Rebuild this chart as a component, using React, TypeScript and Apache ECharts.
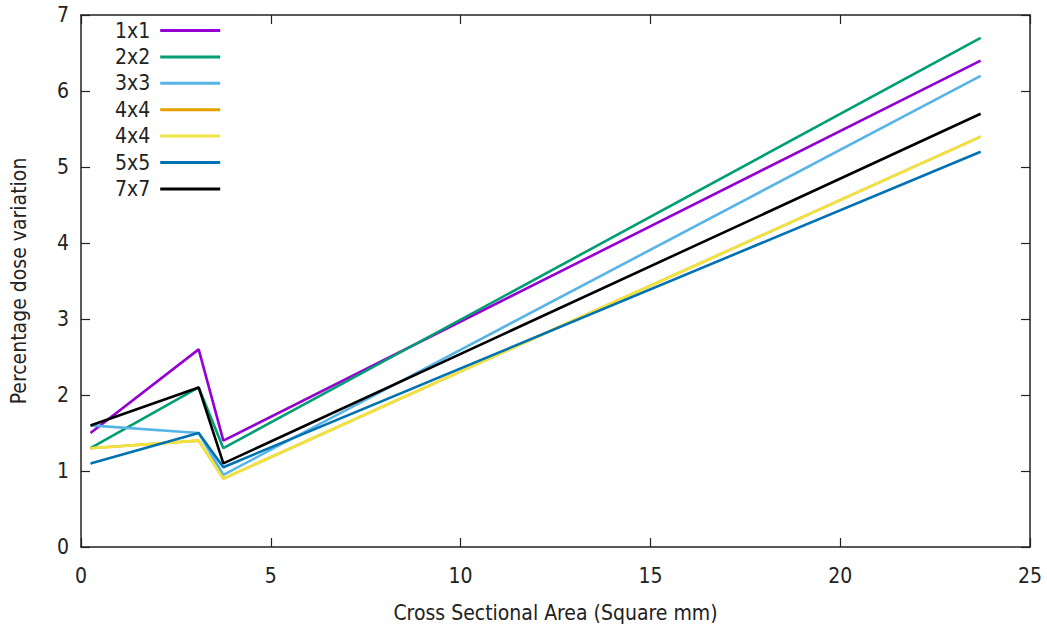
import React, { useEffect, useRef } from "react";
import * as echarts from "echarts";

const xValues = [0.25, 3.1, 3.75, 23.7];
const seriesNames = ["1x1", "2x2", "3x3", "4x4", "4x4\u200b", "5x5", "7x7"];
const s1x1 = [1.5, 2.6, 1.4, 6.4];
const s2x2 = [1.3, 2.1, 1.3, 6.7];
const s3x3 = [1.6, 1.5, 0.95, 6.2];
const s4x4a = [1.3, 1.4, 0.9, 5.4];
const s4x4b = [1.3, 1.4, 0.9, 5.4];
const s5x5 = [1.1, 1.5, 1.05, 5.2];
const s7x7 = [1.6, 2.1, 1.1, 5.7];
const seriesValues = [s1x1, s2x2, s3x3, s4x4a, s4x4b, s5x5, s7x7];
const colors = ["#9400d3", "#009e73", "#56b4e9", "#e69f00", "#f0e442", "#0072b2", "#000000"];

const FONT = "'DejaVu Sans Condensed', 'DejaVu Sans', sans-serif";
const TEXT = "#222";
const FS = 21;

export default function App() {
  const ref = useRef<HTMLDivElement>(null);
  useEffect(() => {
    const chart = echarts.init(ref.current!, null, { renderer: "svg" });
    const axisCommon = {
      axisLine: { show: true, onZero: false, lineStyle: { color: "#222", width: 1.5 } },
      axisTick: { show: true, inside: true, length: 9, lineStyle: { color: "#222", width: 1.2 } },
      splitLine: { show: false },
    };
    chart.setOption({
      animation: false,
      backgroundColor: "#fff",
      grid: { left: 80, right: 17, top: 15, bottom: 81, containLabel: false },
      legend: {
        orient: "vertical",
        left: 110,
        top: 15,
        align: "right",
        icon: "rect",
        itemWidth: 60,
        itemHeight: 3,
        itemGap: 5.4,
        textStyle: { fontFamily: FONT, fontSize: FS, color: TEXT, padding: [0, 5, 0, 0] },
        data: seriesNames.map((n) => ({ name: n })),
      },
      xAxis: [
        {
          type: "value",
          min: 0,
          max: 25,
          interval: 5,
          position: "bottom",
          ...axisCommon,
          axisLabel: { fontFamily: FONT, fontSize: FS, color: TEXT, margin: 18 },
          name: "Cross Sectional Area (Square mm)",
          nameLocation: "middle",
          nameGap: 55,
          nameTextStyle: { fontFamily: FONT, fontSize: FS, color: TEXT },
        },
        {
          type: "value",
          min: 0,
          max: 25,
          interval: 5,
          position: "top",
          ...axisCommon,
          axisLabel: { show: false },
        },
      ],
      yAxis: [
        {
          type: "value",
          min: 0,
          max: 7,
          interval: 1,
          position: "left",
          ...axisCommon,
          axisLabel: { fontFamily: FONT, fontSize: FS, color: TEXT, margin: 12 },
          name: "Percentage dose variation",
          nameLocation: "middle",
          nameGap: 52,
          nameTextStyle: { fontFamily: FONT, fontSize: FS, color: TEXT },
        },
        {
          type: "value",
          min: 0,
          max: 7,
          interval: 1,
          position: "right",
          ...axisCommon,
          axisLabel: { show: false },
        },
      ],
      series: seriesNames.map((name, i) => ({
        name,
        type: "line",
        xAxisIndex: 0,
        yAxisIndex: 0,
        symbol: "none",
        color: colors[i],
        lineStyle: { color: colors[i], width: 2.6 },
        data: xValues.map((x, j) => [x, seriesValues[i][j]]),
        z: i === 6 ? 10 : 2 + i,
      })),
    });
    return () => chart.dispose();
  }, []);
  return <div ref={ref} style={{ width: 1047, height: 628, position: "absolute", left: 0, top: 0 }} />;
}
